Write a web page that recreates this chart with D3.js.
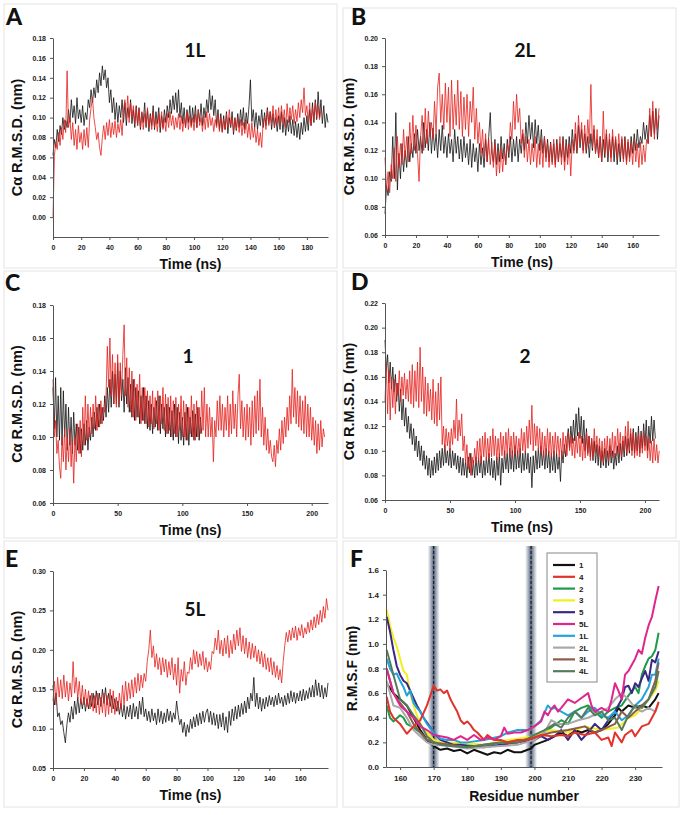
<!DOCTYPE html>
<html><head><meta charset="utf-8">
<script src="https://cdn.jsdelivr.net/npm/d3@7/dist/d3.min.js"></script>
<style>body{margin:0;background:#fff}</style>
</head><body>
<svg id="c" width="683" height="815"></svg>
<script>
// ---------- DATA ----------
const STEP_NS = 1; // sampling interval of the typed series (ns)

// Panel A (1L)
const A_black = [.062,.078,.07,.088,.076,.092,.083,.1,.088,.097, .09,.108,.095,.118,.1,.112,.094,.12,.099,.108, .095,.112,.092,.105,.098,.118,.11,.128,.115,.13, .12,.138,.125,.145,.132,.152,.138,.148,.13,.14, .115,.128,.105,.12,.098,.115,.095,.112,.1,.118, .095,.115,.092,.11,.1,.118,.094,.108,.09,.112, .092,.11,.088,.105,.095,.115,.09,.108,.086,.104, .092,.112,.088,.106,.094,.11,.085,.102,.09,.108, .095,.112,.1,.118,.104,.122,.108,.125,.105,.128, .1,.115,.094,.11,.09,.108,.095,.112,.092,.11, .095,.112,.09,.108,.096,.114,.092,.11,.1,.118, .105,.128,.108,.122,.102,.118,.092,.108,.088,.104, .086,.102,.088,.106,.084,.1,.09,.106,.083,.1, .087,.104,.09,.108,.092,.11,.088,.105,.094,.112, .138,.096,.108,.09,.105,.088,.102,.092,.108,.09, .105,.092,.11,.094,.106,.088,.104,.09,.1,.086, .102,.088,.106,.085,.1,.082,.098,.086,.102,.084, .098,.082,.096,.08,.094,.078,.095,.083,.1,.086, .102,.087,.108,.092,.115,.095,.118,.098,.126,.1, .118,.094,.112,.09,.104,.095];
const A_red = [0.0,.062,.075,.068,.085,.072,.09,.078,.098,.085, .147,.09,.1,.078,.095,.072,.088,.068,.092,.075, .085,.068,.088,.072,.09,.07,.098,.11,.12,.1, .09,.078,.085,.07,.062,.08,.092,.078,.095,.082, .098,.08,.095,.083,.097,.08,.094,.085,.098,.082, .108,.118,.098,.122,.095,.115,.1,.112,.094,.11, .092,.108,.09,.106,.088,.104,.092,.11,.09,.102, .088,.105,.09,.1,.086,.104,.09,.106,.088,.1, .086,.104,.09,.106,.092,.102,.088,.1,.09,.104, .088,.102,.086,.1,.09,.106,.088,.102,.09,.1, .087,.104,.09,.108,.092,.1,.086,.102,.088,.106, .09,.104,.092,.1,.086,.098,.09,.104,.086,.1, .085,.098,.088,.104,.09,.108,.092,.1,.086,.098, .088,.1,.085,.098,.082,.095,.084,.098,.08,.094, .078,.095,.08,.09,.075,.088,.072,.085,.07,.095, .1,.088,.108,.092,.106,.095,.112,.09,.108,.094, .11,.092,.112,.095,.108,.09,.114,.095,.11,.098, .112,.094,.108,.096,.115,.1,.118,.105,.13,.102, .112,.095,.115,.092,.11,.098,.116,.1,.112,.098,.108];
const A_xTicks = [0,20,40,60,80,100,120,140,160,180];
const A_yTicks = [0.00,0.02,0.04,0.06,0.08,0.10,0.12,0.14,0.16,0.18];

// Panel B (2L)
const B_black = [.075,.095,.088,.105,.098,.13,.1,.147,.092,.118, .1,.125,.105,.12,.108,.13,.112,.125,.115,.132, .118,.135,.12,.13,.118,.14,.122,.135,.12,.14, .118,.136,.12,.132,.115,.135,.12,.138,.118,.13, .115,.132,.118,.128,.112,.135,.118,.13,.114,.128, .112,.13,.115,.125,.11,.128,.108,.125,.112,.122, .105,.125,.11,.122,.108,.128,.112,.13,.147,.118, .112,.128,.11,.125,.112,.13,.114,.125,.11,.128, .115,.13,.112,.128,.116,.13,.112,.128,.118,.132, .12,.14,.125,.145,.128,.14,.122,.142,.125,.138, .12,.135,.118,.13,.115,.128,.112,.126,.112,.125, .11,.128,.112,.125,.115,.13,.112,.128,.115,.13, .118,.135,.12,.132,.118,.138,.122,.135,.12,.132, .118,.13,.115,.132,.12,.135,.118,.128,.115,.13, .112,.128,.115,.132,.112,.128,.115,.13,.112,.128, .11,.125,.112,.128,.114,.13,.112,.126,.115,.13, .118,.132,.12,.135,.122,.13,.125,.14,.128,.138, .125,.145,.13,.148,.132,.15,.128,.145];
const B_red = [.115,.092,.105,.09,.11,.1,.122,.098,.13,.108, .125,.11,.135,.115,.13,.112,.14,.118,.145,.12, .138,.118,.098,.13,.145,.12,.15,.125,.148,.13, .14,.128,.155,.132,.165,.175,.14,.16,.135,.168, .14,.165,.13,.17,.135,.16,.138,.17,.135,.162, .13,.158,.135,.16,.13,.155,.14,.165,.128,.15, .125,.14,.118,.135,.115,.132,.112,.128,.11,.126, .108,.125,.102,.12,.104,.122,.105,.12,.11,.125, .12,.14,.128,.155,.135,.16,.14,.15,.125,.135, .115,.13,.112,.128,.11,.125,.112,.13,.108,.125, .11,.128,.108,.13,.112,.126,.108,.125,.11,.128, .108,.125,.112,.13,.11,.128,.106,.124,.11,.125, .102,.128,.118,.14,.12,.145,.125,.14,.118,.138, .12,.142,.125,.167,.122,.138,.118,.135,.115,.13, .112,.148,.118,.135,.115,.132,.112,.135,.118,.13, .114,.132,.116,.13,.112,.128,.11,.128,.112,.125, .11,.128,.112,.125,.108,.126,.11,.124,.112,.128, .125,.15,.13,.155,.128,.148,.135,.15];
const B_xTicks = [0,20,40,60,80,100,120,140,160];
const B_yTicks = [0.06,0.08,0.10,0.12,0.14,0.16,0.18,0.20];

// Panel C (1)
const C_black = [.13,.105,.136,.1,.125,.098,.13,.095,.128,.1, .12,.092,.118,.095,.112,.09,.115,.095,.108,.092, .106,.09,.105,.092,.108,.095,.11,.092,.106,.098, .112,.1,.115,.104,.118,.106,.12,.108,.118,.11, .125,.112,.13,.115,.135,.118,.14,.12,.138,.12, .145,.118,.14,.122,.135,.115,.142,.12,.136,.115, .132,.112,.135,.11,.13,.112,.128,.108,.125,.11, .13,.108,.125,.105,.122,.104,.12,.102,.118,.106, .122,.104,.125,.102,.12,.105,.118,.1,.12,.102, .118,.1,.116,.098,.12,.1,.118,.096,.115,.098, .112,.095,.115,.098,.118,.095,.112,.1,.116,.098, .114,.1,.118,.098,.112,.102];
const C_red = [.135,.1,.11,.09,.098,.082,.075,.1,.085,.105, .08,.1,.085,.105,.082,.098,.072,.1,.085,.108, .09,.11,.088,.118,.095,.125,.098,.12,.1,.118, .102,.12,.105,.125,.104,.12,.106,.122,.108,.118, .115,.125,.155,.13,.16,.125,.15,.12,.145,.118, .15,.12,.145,.125,.15,.168,.125,.148,.118,.142, .115,.14,.112,.135,.11,.132,.112,.138,.108,.13, .11,.13,.108,.128,.106,.125,.108,.128,.105,.124, .108,.128,.104,.125,.108,.13,.104,.126,.102,.124, .104,.125,.1,.122,.102,.124,.1,.12,.104,.125, .1,.122,.1,.12,.098,.118,.102,.125,.1,.12, .098,.122,.1,.118,.102,.128,.104,.13,.1,.12, .1,.118,.1,.112,.085,.11,.1,.122,.104,.125, .104,.12,.1,.118,.104,.125,.1,.12,.102,.128, .105,.12,.1,.125,.138,.105,.122,.1,.118,.098, .12,.1,.118,.095,.122,.1,.125,.102,.128,.104, .135,.1,.118,.095,.112,.092,.105,.09,.098,.088, .085,.095,.082,.098,.09,.105,.092,.11,.096,.112, .1,.118,.104,.125,.108,.141,.112,.13,.108,.128, .106,.125,.104,.122,.102,.125,.1,.12,.1,.118, .098,.112,.095,.11,.09,.108,.092,.11,.094,.105,.1];
const C_xTicks = [0,50,100,150,200];
const C_yTicks = [0.06,0.08,0.10,0.12,0.14,0.16,0.18];

// Panel D (2)
const D_black = [.19,.165,.178,.155,.172,.15,.168,.148,.162,.14, .155,.132,.15,.125,.142,.12,.135,.115,.128,.11, .122,.105,.118,.1,.112,.095,.108,.092,.104,.088, .1,.085,.096,.08,.094,.078,.092,.08,.095,.082, .098,.084,.1,.086,.102,.088,.105,.09,.1,.088, .102,.086,.1,.088,.098,.085,.096,.082,.095,.08, .094,.08,.092,.078,.095,.082,.098,.08,.092,.078, .095,.08,.094,.082,.096,.078,.092,.08,.095,.082, .098,.08,.094,.078,.092,.076,.095,.08,.098,.072, .094,.082,.1,.085,.098,.082,.102,.085,.1,.083, .104,.085,.1,.086,.102,.082,.098,.084,.1,.085, .098,.082,.095,.07,.096,.082,.1,.085,.102,.086, .104,.088,.1,.085,.102,.086,.1,.082,.098,.084, .1,.082,.098,.085,.095,.075,.1,.09,.105,.095, .108,.118,.102,.12,.106,.125,.108,.13,.112,.135, .11,.128,.106,.125,.1,.118,.098,.112,.095,.11, .092,.108,.09,.105,.088,.104,.086,.1,.088,.102, .086,.1,.088,.104,.09,.1,.085,.098,.088,.104, .09,.106,.092,.108,.095,.112,.096,.11,.098,.114, .1,.118,.098,.115,.1,.12,.098,.116,.102,.122, .104,.125,.1,.12,.106,.128,.108,.125,.11];
const D_red = [.14,.17,.13,.165,.125,.16,.135,.158,.13,.155, .145,.165,.14,.16,.145,.163,.142,.158,.14,.165, .138,.17,.135,.165,.14,.172,.135,.184,.14,.168, .13,.16,.128,.155,.132,.15,.125,.158,.122,.148, .12,.155,.125,.16,.105,.12,.1,.118,.104,.115, .1,.118,.105,.125,.11,.142,.108,.125,.112,.13, .1,.112,.09,.105,.085,.098,.08,.095,.088,.102, .09,.108,.092,.11,.09,.112,.095,.115,.092,.11, .094,.112,.095,.118,.096,.112,.092,.11,.095,.115, .096,.112,.094,.115,.098,.118,.096,.112,.094,.115, .098,.112,.095,.11,.098,.118,.1,.115,.098,.12, .102,.125,.105,.137,.1,.122,.104,.12,.1,.118, .098,.115,.095,.112,.096,.118,.098,.115,.095,.112, .096,.115,.098,.112,.095,.11,.094,.115,.098,.112, .096,.115,.1,.112,.096,.11,.094,.112,.098,.115, .095,.112,.092,.11,.094,.115,.096,.112,.092,.11, .095,.118,.098,.112,.095,.11,.092,.108,.09,.11, .094,.112,.092,.11,.096,.115,.094,.112,.096,.118, .098,.115,.095,.112,.1,.12,.098,.124,.1,.118, .096,.115,.094,.112,.096,.114,.095,.112,.098,.116, .1,.112,.094,.11,.092,.108,.09,.11,.092,.105,.09,.1];
const D_xTicks = [0,50,100,150,200];
const D_yTicks = [0.06,0.08,0.10,0.12,0.14,0.16,0.18,0.20,0.22];

// Panel E (5L)
const E_black = [.155,.13,.145,.115,.12,.105,.11,.095,.082,.105, .12,.108,.128,.112,.135,.118,.14,.12,.138,.125, .14,.122,.138,.125,.142,.128,.145,.126,.148,.13, .145,.128,.15,.132,.152,.13,.145,.128,.142,.125, .138,.122,.135,.118,.132,.115,.13,.112,.128,.115, .13,.112,.132,.115,.128,.112,.135,.118,.14,.115, .125,.11,.122,.108,.125,.11,.12,.105,.125,.108, .122,.106,.12,.108,.125,.11,.122,.108,.12,.112, .135,.118,.105,.112,.095,.108,.09,.105,.095,.112, .1,.115,.102,.118,.104,.12,.106,.122,.108,.12, .125,.108,.122,.105,.12,.104,.118,.1,.118,.102, .12,.098,.115,.095,.122,.104,.125,.11,.128,.112, .13,.115,.132,.118,.135,.12,.14,.125,.145,.135, .165,.128,.145,.125,.14,.122,.138,.125,.14,.128, .142,.13,.14,.128,.142,.13,.145,.132,.14,.128, .142,.13,.145,.132,.148,.134,.146,.132,.145,.135, .148,.135,.15,.136,.148,.138,.152,.14,.155,.14, .162,.142,.158,.14,.155,.138,.152,.14,.158];
const E_red = [.135,.16,.13,.165,.14,.162,.138,.168,.14,.16, .135,.158,.14,.185,.145,.165,.138,.16,.132,.155, .13,.15,.128,.148,.125,.145,.122,.142,.12,.145, .118,.14,.12,.145,.115,.142,.118,.15,.12,.148, .118,.14,.122,.145,.125,.155,.13,.16,.135,.158, .138,.162,.14,.165,.145,.17,.148,.168,.152,.17, .16,.185,.2,.225,.19,.205,.178,.195,.175,.19, .168,.19,.172,.188,.165,.185,.168,.19,.162,.182, .155,.19,.145,.175,.16,.185,.155,.172,.17,.19, .175,.2,.182,.198,.178,.195,.18,.198,.175,.19, .172,.185,.175,.198,.195,.215,.2,.225,.195,.212, .192,.215,.195,.218,.19,.212,.195,.22,.2,.225, .205,.228,.198,.218,.195,.215,.19,.21,.188,.208, .19,.205,.185,.2,.182,.198,.178,.195,.175,.19, .172,.19,.168,.185,.165,.18,.162,.175,.158,.185, .205,.222,.21,.225,.212,.228,.215,.23,.212,.228, .218,.232,.215,.228,.22,.235,.222,.238,.225,.242, .228,.245,.232,.25,.235,.255,.24,.265,.25];
const E_xTicks = [0,20,40,60,80,100,120,140,160];
const E_yTicks = [0.05,0.10,0.15,0.20,0.25,0.30];

// Panel F (RMSF) — [residue, nm]
const F_1  = [[156,0.68],[158,0.6],[160,0.55],[162,0.5],[164,0.4],[166,0.3],[168,0.22],[170,0.17],[172,0.14],[174,0.15],[176,0.13],[178,0.14],[180,0.11],[182,0.14],[184,0.12],[186,0.1],[188,0.12],[190,0.11],[192,0.14],[194,0.12],[196,0.12],[198,0.14],[199,0.15],[200,0.18],[202,0.2],[204,0.22],[206,0.25],[208,0.28],[210,0.25],[212,0.3],[214,0.28],[216,0.3],[218,0.28],[220,0.3],[222,0.35],[224,0.42],[225,0.48],[226,0.45],[228,0.5],[230,0.48],[232,0.5],[234,0.48],[236,0.55],[237,0.6]];
const F_4  = [[156,0.57],[157,0.45],[158,0.4],[160,0.35],[162,0.27],[164,0.33],[166,0.38],[168,0.5],[169,0.58],[170,0.66],[171,0.62],[172,0.63],[173,0.6],[174,0.62],[175,0.55],[176,0.5],[177,0.45],[178,0.38],[179,0.35],[180,0.37],[181,0.34],[182,0.3],[183,0.28],[184,0.25],[185,0.22],[186,0.26],[188,0.22],[190,0.22],[192,0.2],[195,0.22],[198,0.22],[200,0.24],[202,0.26],[205,0.25],[208,0.26],[210,0.25],[212,0.28],[215,0.26],[218,0.28],[220,0.22],[222,0.24],[223,0.17],[224,0.28],[226,0.2],[227,0.26],[229,0.3],[230,0.25],[232,0.33],[234,0.35],[235,0.4],[236,0.45],[237,0.53]];
const F_2  = [[156,0.5],[157,0.4],[158,0.37],[160,0.42],[161,0.4],[162,0.35],[164,0.32],[166,0.28],[168,0.22],[170,0.2],[172,0.18],[175,0.18],[180,0.18],[185,0.17],[190,0.2],[195,0.22],[200,0.25],[204,0.3],[208,0.38],[210,0.35],[212,0.45],[214,0.48],[216,0.5],[218,0.45],[220,0.4],[222,0.45],[224,0.48],[226,0.5],[228,0.58],[230,0.65],[231,0.6],[232,0.75],[233,0.82],[234,0.88],[235,0.9],[236,0.95],[237,1.09]];
const F_3  = [[156,1.28],[157,1.15],[158,1.05],[159,0.98],[160,0.88],[161,0.78],[162,0.75],[163,0.6],[164,0.5],[165,0.42],[166,0.35],[168,0.28],[170,0.22],[172,0.2],[175,0.2],[180,0.19],[185,0.18],[190,0.21],[195,0.23],[200,0.25],[205,0.3],[210,0.28],[215,0.33],[220,0.3],[225,0.32],[228,0.4],[230,0.42],[232,0.48],[234,0.55],[236,0.62],[237,0.7]];
const F_5  = [[156,1.22],[157,1.1],[158,0.95],[159,0.82],[160,0.75],[161,0.7],[162,0.68],[163,0.62],[164,0.56],[165,0.5],[166,0.45],[167,0.4],[168,0.36],[170,0.28],[172,0.22],[174,0.2],[176,0.18],[178,0.18],[180,0.17],[185,0.16],[190,0.18],[195,0.2],[200,0.22],[202,0.25],[204,0.22],[206,0.25],[208,0.3],[210,0.22],[212,0.3],[214,0.22],[216,0.28],[218,0.35],[220,0.3],[222,0.38],[224,0.45],[226,0.55],[227,0.65],[228,0.66],[229,0.6],[230,0.68],[231,0.65],[232,0.72],[233,0.78],[234,0.7],[235,0.87],[236,0.85],[237,0.94]];
const F_5L = [[156,0.8],[158,0.6],[160,0.5],[162,0.45],[164,0.4],[166,0.33],[168,0.3],[170,0.26],[172,0.25],[174,0.24],[176,0.22],[178,0.25],[180,0.22],[182,0.26],[184,0.22],[186,0.24],[188,0.22],[190,0.25],[191,0.32],[192,0.27],[194,0.28],[196,0.28],[198,0.3],[200,0.33],[202,0.37],[203,0.45],[204,0.42],[205,0.47],[206,0.5],[207,0.45],[208,0.48],[210,0.55],[212,0.52],[214,0.56],[216,0.6],[217,0.5],[218,0.45],[220,0.48],[222,0.45],[223,0.55],[224,0.68],[225,0.62],[226,0.55],[227,0.75],[228,0.78],[230,0.88],[231,0.95],[232,0.92],[233,1.05],[234,1.15],[235,1.22],[236,1.35],[237,1.47]];
const F_1L = [[156,0.88],[157,0.8],[158,0.75],[159,0.76],[160,0.7],[161,0.65],[162,0.58],[163,0.62],[164,0.52],[165,0.48],[166,0.45],[168,0.35],[170,0.28],[172,0.23],[174,0.22],[176,0.22],[178,0.2],[180,0.2],[185,0.22],[190,0.25],[192,0.28],[195,0.3],[198,0.3],[200,0.33],[202,0.38],[204,0.5],[205,0.47],[206,0.48],[208,0.45],[210,0.42],[212,0.45],[214,0.4],[216,0.45],[218,0.48],[220,0.42],[222,0.4],[224,0.45],[226,0.38],[228,0.42],[230,0.5],[232,0.55],[234,0.65],[235,0.75],[236,0.75],[237,0.88]];
const F_2L = [[156,0.7],[158,0.5],[160,0.48],[162,0.4],[164,0.3],[166,0.25],[168,0.2],[170,0.18],[175,0.17],[180,0.15],[185,0.16],[190,0.17],[195,0.18],[200,0.22],[203,0.28],[205,0.38],[207,0.35],[210,0.35],[213,0.38],[216,0.4],[220,0.45],[222,0.48],[224,0.55],[226,0.6],[228,0.55],[230,0.48],[232,0.45],[234,0.48],[236,0.45],[237,0.52]];
const F_3L = [[156,0.8],[158,0.6],[160,0.52],[162,0.45],[164,0.35],[166,0.28],[168,0.22],[170,0.2],[175,0.18],[180,0.16],[185,0.18],[190,0.2],[195,0.2],[200,0.24],[205,0.28],[210,0.3],[215,0.33],[218,0.28],[220,0.3],[224,0.35],[226,0.45],[228,0.4],[230,0.45],[232,0.5],[234,0.55],[236,0.7],[237,0.85]];
const F_4L = [[156,0.95],[157,0.85],[158,0.75],[160,0.55],[162,0.5],[164,0.42],[166,0.35],[168,0.25],[170,0.2],[172,0.18],[175,0.17],[180,0.16],[185,0.18],[190,0.2],[195,0.2],[198,0.23],[200,0.26],[203,0.3],[206,0.35],[208,0.32],[210,0.4],[212,0.45],[214,0.4],[216,0.48],[218,0.42],[220,0.45],[222,0.38],[224,0.4],[226,0.3],[228,0.42],[230,0.5],[232,0.48],[234,0.55],[236,0.65],[237,0.78]];
const F_names  = ['1','4','2','3','5','5L','1L','2L','3L','4L'];
const F_colors = ['#111111','#e2332b','#1f9a4a','#f3ee1f','#3a2883','#e0268c','#22a3dc','#a9a9a9','#8b5c4a','#557b5f'];
const F_xTicks = [160,170,180,190,200,210,220,230];
const F_yTicks = [0.0,0.2,0.4,0.6,0.8,1.0,1.2,1.4,1.6];
const F_marks  = [170,199];

// ---------- DRAW ----------
const svg = d3.select('#c');
const TF = 'Liberation Sans, Arial, sans-serif';
const LF = 'Lato, Open Sans, sans-serif';

// faint panel frames
[[4,4,333,264],[343,8,333,260],[4,271,333,267],[343,271,333,267],[4,541,333,266],[343,541,336,266]].forEach(r=>{
  svg.append('rect').attr('x',r[0]).attr('y',r[1]).attr('width',r[2]).attr('height',r[3])
    .attr('fill','none').attr('stroke','#e4e4e4').attr('stroke-width',1);
});

function styleAxis(g, fs){
  g.select('.domain').attr('stroke','#555');
  g.selectAll('.tick line').attr('stroke','#555');
  g.selectAll('.tick text').attr('fill','#222').attr('font-family',TF).attr('font-weight','bold').attr('font-size',fs);
}

function timePanel(c){
  const x = d3.scaleLinear().domain(c.xd).range([c.x0,c.x1]);
  const y = d3.scaleLinear().domain(c.yd).range([c.y1,c.y0]);
  const g = svg.append('g');
  const line = d3.line().x((d,i)=>x(i*STEP_NS)).y(d=>y(d));
  g.append('path').datum(c.black).attr('d',line).attr('fill','none').attr('stroke','#111').attr('stroke-width',0.8).attr('stroke-linejoin','round');
  g.append('path').datum(c.red).attr('d',line).attr('fill','none').attr('stroke','#e4201c').attr('stroke-width',0.8).attr('stroke-linejoin','round');
  const ax = g.append('g').attr('transform',`translate(0,${c.y1})`)
    .call(d3.axisBottom(x).tickValues(c.xt).tickSize(3).tickSizeOuter(0).tickPadding(5).tickFormat(d3.format('d')));
  styleAxis(ax,7);
  const ay = g.append('g').attr('transform',`translate(${c.x0},0)`)
    .call(d3.axisLeft(y).tickValues(c.yt).tickSize(3).tickSizeOuter(0).tickPadding(4).tickFormat(d3.format('.2f')));
  styleAxis(ay,7);
  g.append('text').attr('x',(c.x0+c.x1)/2).attr('y',c.y1+32).attr('text-anchor','middle')
    .attr('font-family',TF).attr('font-weight','bold').attr('font-size',14).attr('fill','#111').text('Time (ns)');
  const cy = (c.y0+c.y1)/2;
  g.append('text').attr('transform',`translate(${c.x0-31},${cy}) rotate(-90)`).attr('text-anchor','middle')
    .attr('font-family',TF).attr('font-weight','bold').attr('font-size',14.5).attr('fill','#111').text('Cα R.M.S.D. (nm)');
  g.append('text').attr('x',c.tx).attr('y',c.ty).attr('text-anchor','middle')
    .attr('font-family',LF).attr('font-weight','bold').attr('font-size',19).attr('fill','#111').text(c.title);
  svg.append('text').attr('x',c.lx).attr('y',c.ly).attr('font-family',LF).attr('font-weight','900')
    .attr('font-size',23).attr('fill','#111').text(c.letter);
}

timePanel({black:A_black,red:A_red,xd:[0,195],yd:[-0.02,0.18],x0:53,x1:328,y0:38,y1:237,xt:A_xTicks,yt:A_yTicks,title:'1L',tx:195,ty:57,letter:'A',lx:6,ly:25});
timePanel({black:B_black,red:B_red,xd:[0,177],yd:[0.06,0.20],x0:385,x1:659,y0:38,y1:235,xt:B_xTicks,yt:B_yTicks,title:'2L',tx:525,ty:57,letter:'B',lx:351,ly:25});
timePanel({black:C_black,red:C_red,xd:[0,212.6],yd:[0.06,0.18],x0:53,x1:328,y0:305,y1:503,xt:C_xTicks,yt:C_yTicks,title:'1',tx:188,ty:363,letter:'C',lx:5,ly:291});
timePanel({black:D_black,red:D_red,xd:[0,210.8],yd:[0.06,0.22],x0:385,x1:659,y0:303,y1:500,xt:D_xTicks,yt:D_yTicks,title:'2',tx:525,ty:363,letter:'D',lx:351,ly:290});
timePanel({black:E_black,red:E_red,xd:[0,178],yd:[0.05,0.30],x0:53,x1:328,y0:571,y1:768,xt:E_xTicks,yt:E_yTicks,title:'5L',tx:195,ty:616,letter:'E',lx:5,ly:567});

// Panel F
(function(){
  const x0=386,x1=662,y0=570,y1=767;
  const x = d3.scaleLinear().domain([155.8,238]).range([x0,x1]);
  const y = d3.scaleLinear().domain([0,1.6]).range([y1,y0]);
  const defs = svg.append('defs');
  const gr = defs.append('linearGradient').attr('id','band').attr('x1','0').attr('x2','1').attr('y1','0').attr('y2','0');
  [[0,0],[0.25,0.45],[0.5,0.95],[0.75,0.45],[1,0]].forEach(s=>gr.append('stop').attr('offset',s[0]).attr('stop-color','#4d5d78').attr('stop-opacity',s[1]));
  const g = svg.append('g');
  F_marks.forEach(m=>{
    g.append('rect').attr('x',x(m)-6).attr('y',546).attr('width',12).attr('height',y1-546).attr('fill','url(#band)');
    g.append('line').attr('x1',x(m)).attr('x2',x(m)).attr('y1',546).attr('y2',y1).attr('stroke','#111').attr('stroke-width',1).attr('stroke-dasharray','3,2');
  });
  const series = [F_1,F_4,F_2,F_3,F_5,F_5L,F_1L,F_2L,F_3L,F_4L];
  const order = [0,2,3,4,6,7,8,9,1,5];
  const line = d3.line().x(d=>x(d[0])).y(d=>y(d[1]));
  order.forEach(i=>{
    g.append('path').datum(series[i]).attr('d',line).attr('fill','none').attr('stroke',F_colors[i]).attr('stroke-width',2).attr('stroke-linejoin','round');
  });
  const ax = g.append('g').attr('transform',`translate(0,${y1})`)
    .call(d3.axisBottom(x).tickValues(F_xTicks).tickSize(3).tickSizeOuter(0).tickPadding(5).tickFormat(d3.format('d')));
  styleAxis(ax,8);
  const ay = g.append('g').attr('transform',`translate(${x0},0)`)
    .call(d3.axisLeft(y).tickValues(F_yTicks).tickSize(3).tickSizeOuter(0).tickPadding(4).tickFormat(d3.format('.1f')));
  styleAxis(ay,8);
  g.append('text').attr('x',(x0+x1)/2).attr('y',801).attr('text-anchor','middle')
    .attr('font-family',TF).attr('font-weight','bold').attr('font-size',14).attr('fill','#111').text('Residue number');
  g.append('text').attr('transform',`translate(357,${(y0+y1)/2}) rotate(-90)`).attr('text-anchor','middle')
    .attr('font-family',TF).attr('font-weight','bold').attr('font-size',14).attr('fill','#111').text('R.M.S.F (nm)');
  svg.append('text').attr('x',350).attr('y',567).attr('font-family',LF).attr('font-weight','900')
    .attr('font-size',23).attr('fill','#111').text('F');
  const lg = g.append('g');
  lg.append('rect').attr('x',547).attr('y',553).attr('width',50).attr('height',129).attr('fill','#fff').attr('stroke','#888').attr('stroke-width',1);
  F_names.forEach((n,i)=>{
    const yy = 565 + i*11.8;
    lg.append('line').attr('x1',553).attr('x2',575).attr('y1',yy).attr('y2',yy).attr('stroke',F_colors[i]).attr('stroke-width',2.2);
    lg.append('text').attr('x',579).attr('y',yy+3).attr('font-family',TF).attr('font-weight','bold').attr('font-size',8).attr('fill','#222').text(n);
  });
})();
</script>
</body></html>
